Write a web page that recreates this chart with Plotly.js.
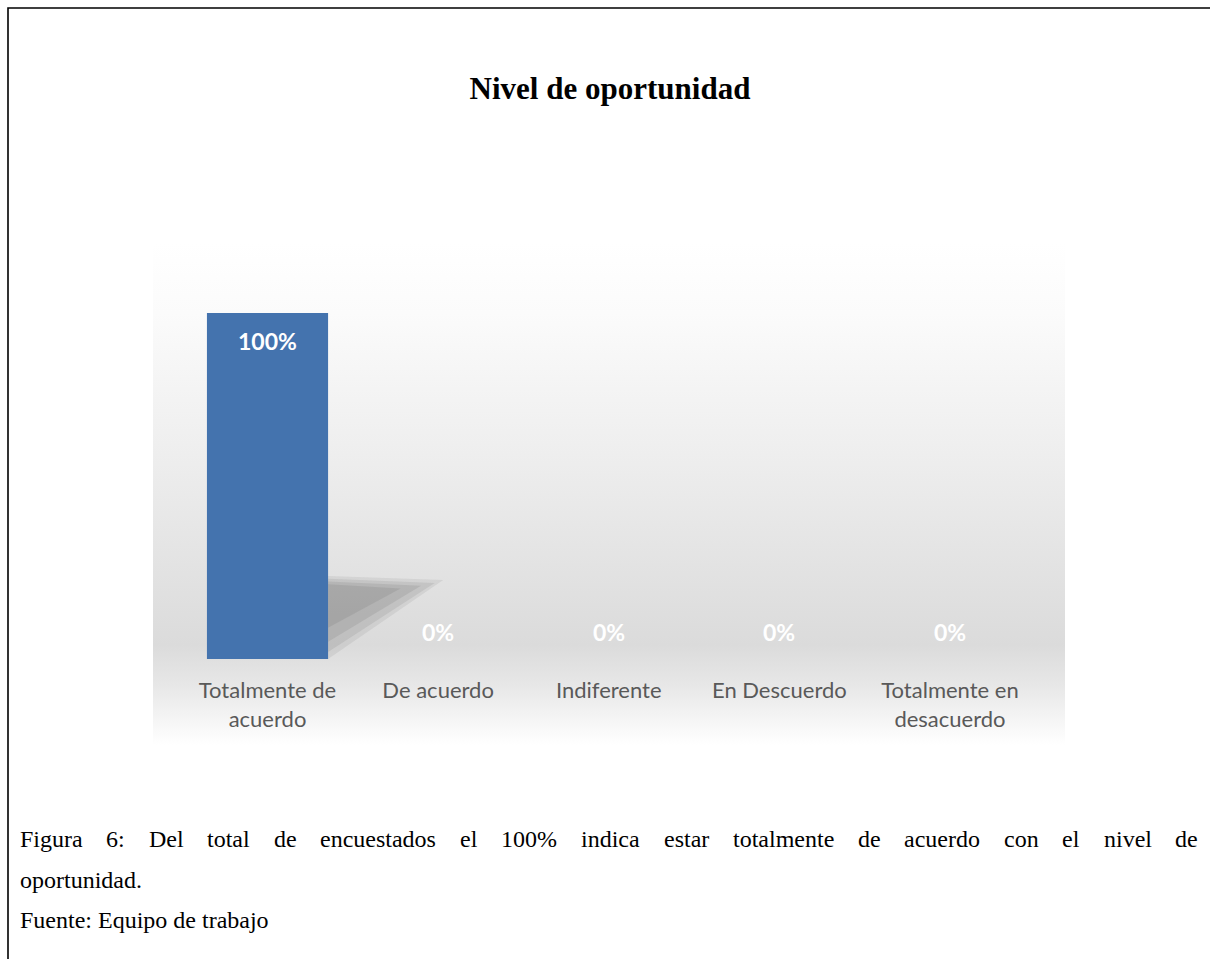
<!DOCTYPE html>
<html>
<head>
<meta charset="utf-8">
<script src="https://cdn.plot.ly/plotly-3.0.1.min.js"></script>
<style>html,body{margin:0;padding:0;background:#fff;}#chart{width:1210px;height:959px;}</style>
</head>
<body>
<div id="chart"></div>
<script>
// ---- data ----
var chartTitle = 'Nivel de oportunidad';
var categories = ['Totalmente de acuerdo', 'De acuerdo', 'Indiferente', 'En Descuerdo', 'Totalmente en desacuerdo'];
var tickLabels = ['Totalmente de<br>acuerdo', 'De acuerdo', 'Indiferente', 'En Descuerdo', 'Totalmente en<br>desacuerdo'];
var percentValues = [100, 0, 0, 0, 0];
var captionLine1 = 'Figura 6: Del total de encuestados el 100% indica estar totalmente de acuerdo con el nivel de';
var captionLine2 = 'oportunidad.';
var captionLine3 = 'Fuente: Equipo de trabajo';

// ---- layout helpers ----
var W = 1210, H = 959;
function px(x) { return x / W; }
function py(y) { return 1 - y / H; }

var bargap = 0.29;

var trace = {
  type: 'bar',
  x: categories,
  y: percentValues,
  marker: { color: '#4473ae', line: { width: 0 } },
  hoverinfo: 'x+y',
  showlegend: false
};

// value labels (inside end, Excel style)
var annotations = percentValues.map(function (v, i) {
  return {
    x: categories[i], y: v, xref: 'x', yref: 'y',
    text: v + '%', showarrow: false,
    yanchor: 'middle', yshift: v > 0 ? -28 : 27,
    font: { family: 'Lato, "Open Sans", sans-serif', size: 23, color: '#ffffff', weight: 'bold' }
  };
});

// caption, justified line 1
var captionFont = { family: '"Liberation Serif", "Times New Roman", serif', size: 24, color: '#000000' };
(function () {
  var c = document.createElement('canvas').getContext('2d');
  c.font = '24px "Liberation Serif"';
  var words = captionLine1.split(' ');
  var widths = words.map(function (w) { return c.measureText(w).width; });
  var sum = widths.reduce(function (a, b) { return a + b; }, 0);
  var left = 19, right = 1197;
  var gap = (right - left - sum) / (words.length - 1);
  var x = left;
  words.forEach(function (w, i) {
    annotations.push({ x: px(x), y: py(839), xref: 'paper', yref: 'paper', xanchor: 'left', yanchor: 'middle',
      text: w, showarrow: false, font: captionFont, borderpad: 0 });
    x += widths[i] + gap;
  });
})();
annotations.push({ x: px(19), y: py(880), xref: 'paper', yref: 'paper', xanchor: 'left', yanchor: 'middle',
  text: captionLine2, showarrow: false, font: captionFont, borderpad: 0 });
annotations.push({ x: px(19), y: py(920), xref: 'paper', yref: 'paper', xanchor: 'left', yanchor: 'middle',
  text: captionLine3, showarrow: false, font: captionFont, borderpad: 0 });

// background gradient (Excel style fill)
var svgBg = '<svg xmlns="http://www.w3.org/2000/svg" width="100" height="100" viewBox="0 0 100 100" preserveAspectRatio="none">' +
  '<defs><linearGradient id="g" x1="0" y1="0" x2="0" y2="1">' +
  '<stop offset="0" stop-color="#ffffff"/>' +
  '<stop offset="0.14" stop-color="#fbfbfb"/>' +
  '<stop offset="0.42" stop-color="#eeeeee"/>' +
  '<stop offset="0.62" stop-color="#e4e4e4"/>' +
  '<stop offset="0.8" stop-color="#dbdbdb"/>' +
  '<stop offset="0.88" stop-color="#e7e7e7"/>' +
  '<stop offset="1" stop-color="#ffffff"/>' +
  '</linearGradient></defs><rect x="0" y="0" width="100" height="100" fill="url(#g)"/></svg>';

// soft perspective shadow behind the first bar, scaled from its value
var half = (1 - bargap) / 2;
var v0 = percentValues[0];
var shadowLayers = [
  { tip: 1.03, top: 0.240, bot: 0.00, op: 0.10 },
  { tip: 0.98, top: 0.232, bot: 0.02, op: 0.12 },
  { tip: 0.90, top: 0.224, bot: 0.05, op: 0.14 },
  { tip: 0.78, top: 0.216, bot: 0.09, op: 0.14 }
];
var shapes = [
  { type: 'rect', xref: 'paper', yref: 'paper', x0: px(8), y0: py(8), x1: 1.02, y1: -0.02,
    line: { color: '#000000', width: 1.6 }, fillcolor: 'rgba(0,0,0,0)', layer: 'above' }
];
shadowLayers.forEach(function (s) {
  shapes.push({ type: 'path', xref: 'x', yref: 'y', layer: 'below',
    path: 'M ' + half + ' ' + (s.bot * v0) + ' L ' + half + ' ' + (s.top * v0) + ' L ' + s.tip + ' ' + ((s.top - 0.012) * v0) + ' Z',
    fillcolor: 'rgba(90,90,90,' + s.op + ')', line: { width: 0 } });
});

var layout = {
  width: W, height: H,
  margin: { l: 0, r: 0, t: 0, b: 0 },
  paper_bgcolor: '#ffffff',
  plot_bgcolor: 'rgba(0,0,0,0)',
  title: { text: '<b>' + chartTitle + '</b>', x: px(610), xanchor: 'center', xref: 'paper',
    y: py(88), yanchor: 'middle', yref: 'paper',
    font: { family: '"Liberation Serif", "Times New Roman", serif', size: 31, color: '#000000' } },
  bargap: bargap,
  xaxis: {
    domain: [px(182.2), px(1035.3)],
    tickmode: 'array', tickvals: categories, ticktext: tickLabels,
    showgrid: false, zeroline: false, showline: false, ticks: '',
    ticklabelstandoff: 16,
    tickfont: { family: 'Lato, "Open Sans", sans-serif', size: 22, color: '#595959' },
    fixedrange: true
  },
  yaxis: {
    domain: [py(659), py(313)],
    range: [0, 100],
    visible: false, showgrid: false, zeroline: false, fixedrange: true
  },
  images: [{
    source: 'data:image/svg+xml;charset=utf-8,' + encodeURIComponent(svgBg),
    xref: 'paper', yref: 'paper', x: px(153), y: py(243), sizex: 912 / W, sizey: 502 / H,
    xanchor: 'left', yanchor: 'top', sizing: 'stretch', layer: 'below', opacity: 1
  }],
  shapes: shapes,
  annotations: annotations
};

Plotly.newPlot('chart', [trace], layout, { displayModeBar: false, staticPlot: true });
</script>
</body>
</html>
